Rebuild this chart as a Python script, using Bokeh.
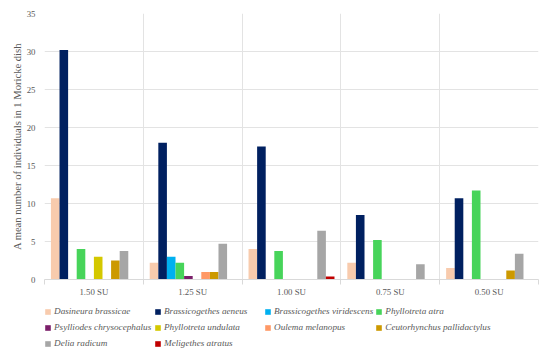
from bokeh.plotting import figure
from bokeh.layouts import column
from bokeh.models import FixedTicker, Legend, LegendItem, Range1d
from bokeh.embed import file_html
from bokeh.resources import INLINE

categories = ["1.50 SU", "1.25 SU", "1.00 SU", "0.75 SU", "0.50 SU"]

series_names = [
    "Dasineura brassicae", "Brassicogethes aeneus", "Brassicogethes viridescens",
    "Phyllotreta atra", "Psylliodes chrysocephalus", "Phyllotreta undulata",
    "Oulema melanopus", "Ceutorhynchus pallidactylus", "Delia radicum",
    "Meligethes atratus",
]
dasineura_brassicae = [10.7, 2.2, 4.0, 2.2, 1.5]
brassicogethes_aeneus = [30.2, 18.0, 17.5, 8.5, 10.7]
brassicogethes_viridescens = [0, 3.0, 0, 0, 0]
phyllotreta_atra = [4.0, 2.2, 3.75, 5.2, 11.7]
psylliodes_chrysocephalus = [0, 0.45, 0, 0, 0]
phyllotreta_undulata = [3.0, 0, 0, 0, 0]
oulema_melanopus = [0, 1.0, 0, 0, 0]
ceutorhynchus_pallidactylus = [2.5, 1.0, 0, 0, 1.2]
delia_radicum = [3.75, 4.7, 6.4, 2.0, 3.4]
meligethes_atratus = [0, 0, 0.4, 0, 0]

series_values = [
    dasineura_brassicae, brassicogethes_aeneus, brassicogethes_viridescens,
    phyllotreta_atra, psylliodes_chrysocephalus, phyllotreta_undulata,
    oulema_melanopus, ceutorhynchus_pallidactylus, delia_radicum,
    meligethes_atratus,
]
colors = ["#F8CBAD", "#002060", "#00B0F0", "#47D45A", "#7B1F6A",
          "#D4C800", "#FF9966", "#CC9900", "#A6A6A6", "#C00000"]

y_ticks = [0, 5, 10, 15, 20, 25, 30, 35]

SERIF = "Liberation Serif"
GREY_TXT = "#595959"

p = figure(width=550, height=301, output_backend="svg", toolbar_location=None,
           x_range=Range1d(0, len(categories)), y_range=Range1d(0, 35),
           min_border_left=44, min_border_right=12, min_border_top=13,
           min_border_bottom=22)
p.outline_line_color = None
p.background_fill_color = "white"

bar_w = 0.087
n = len(series_names)
for j, (vals, col) in enumerate(zip(series_values, colors)):
    xs = [i + 0.5 + (j - (n - 1) / 2) * bar_w for i in range(len(categories))]
    p.vbar(x=xs, top=vals, bottom=0, width=bar_w, fill_color=col, line_color=None)

# x axis
centers = [i + 0.5 for i in range(len(categories))]
bounds = list(range(len(categories) + 1))
p.xaxis.ticker = FixedTicker(ticks=centers, minor_ticks=bounds)
p.xaxis.major_label_overrides = {c: lab for c, lab in zip(centers, categories)}
p.xaxis.major_tick_line_color = None
p.xaxis.major_tick_out = 0
p.xaxis.major_tick_in = 0
p.xaxis.minor_tick_line_color = "#D9D9D9"
p.xaxis.minor_tick_out = 5
p.xaxis.minor_tick_in = 0
p.xaxis.axis_line_color = "#D9D9D9"
p.xaxis.major_label_text_font = SERIF
p.xaxis.major_label_text_font_size = "8.8px"
p.xaxis.major_label_text_color = GREY_TXT
p.xaxis.major_label_standoff = 2

p.xgrid.ticker = FixedTicker(ticks=bounds)
p.xgrid.grid_line_color = "#E3E3E3"

# y axis
p.yaxis.ticker = FixedTicker(ticks=y_ticks)
p.yaxis.axis_line_color = None
p.yaxis.major_tick_line_color = None
p.yaxis.minor_tick_line_color = None
p.yaxis.major_tick_out = 0
p.yaxis.major_tick_in = 0
p.yaxis.minor_tick_out = 0
p.yaxis.minor_tick_in = 0
p.yaxis.major_label_text_font = SERIF
p.yaxis.major_label_text_font_size = "8.8px"
p.yaxis.major_label_text_color = GREY_TXT
p.yaxis.major_label_standoff = 9
p.yaxis.axis_label = "A mean number of individuals in 1 Moricke dish"
p.yaxis.axis_label_text_font = SERIF
p.yaxis.axis_label_text_font_style = "normal"
p.yaxis.axis_label_text_font_size = "10.6px"
p.yaxis.axis_label_text_color = GREY_TXT
p.yaxis.axis_label_standoff = 1
p.ygrid.grid_line_color = "#E3E3E3"

# legend in its own strip below the chart
lg = figure(width=550, height=52, output_backend="svg", toolbar_location=None,
            x_axis_location=None, y_axis_location=None,
            x_range=Range1d(0, 1), y_range=Range1d(0, 1),
            min_border_left=40, min_border_right=0, min_border_top=3,
            min_border_bottom=0)
lg.outline_line_color = None
lg.xgrid.visible = False
lg.ygrid.visible = False
items = []
for name, col in zip(series_names, colors):
    r = lg.vbar(x=[0.5], top=[0], bottom=[0], width=0.1, fill_color=col, line_color=None)
    items.append(LegendItem(label=name, renderers=[r]))

legend = Legend(items=items, orientation="horizontal", ncols=4,
                location="top_left", margin=0, padding=0, spacing=2,
                glyph_width=7, glyph_height=7, label_standoff=3,
                label_width=98, label_height=14,
                label_text_font=SERIF, label_text_font_style="italic",
                label_text_font_size="9.2px", label_text_color=GREY_TXT,
                border_line_color=None, background_fill_alpha=0)
lg.add_layout(legend)

layout = column(p, lg, spacing=0)
open("out.html", "w").write(file_html(layout, INLINE))
